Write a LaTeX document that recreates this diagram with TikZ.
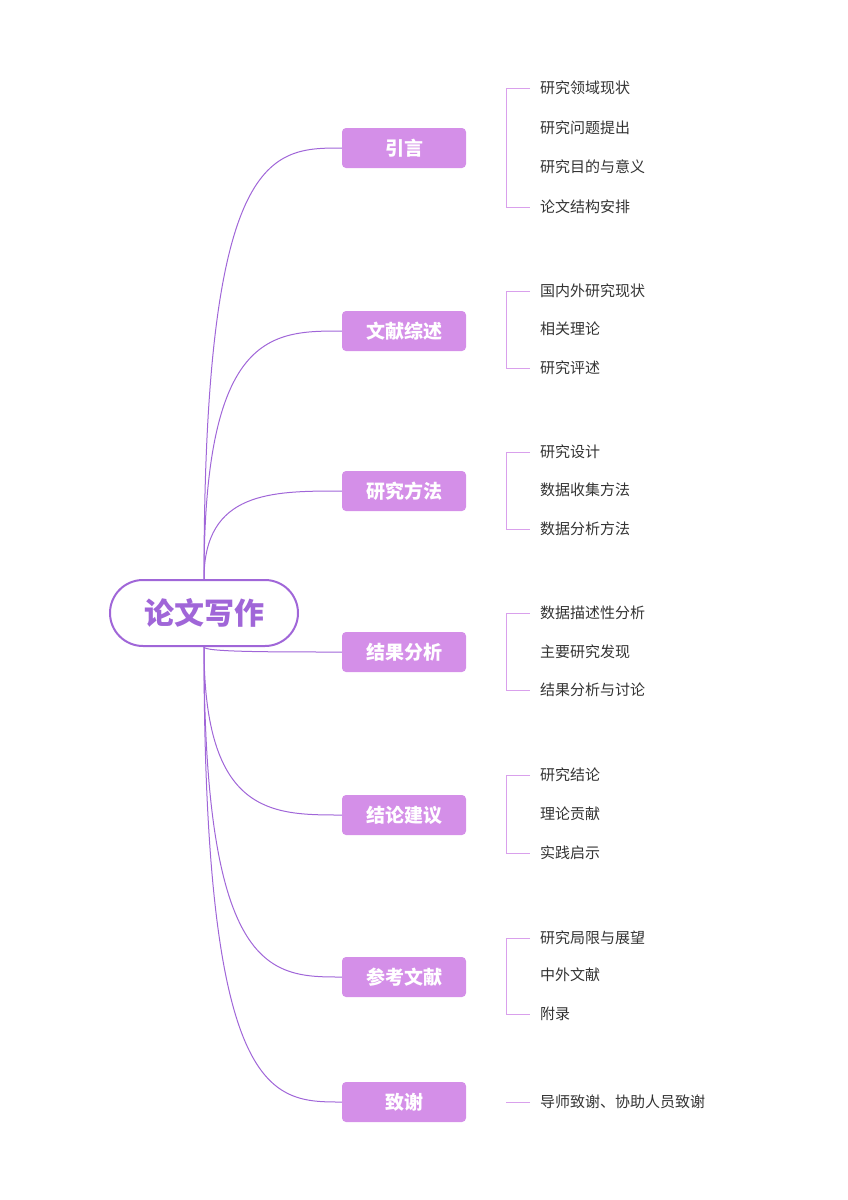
\documentclass[tikz,border=0pt]{standalone}
\usepackage{fontspec}
\setmainfont{Noto Sans CJK SC}
\usetikzlibrary{calc}
\definecolor{mainpurple}{HTML}{A066D8}
\definecolor{branchfill}{HTML}{D48FE8}
\definecolor{bracketcol}{HTML}{D9A0EC}
\definecolor{leaftext}{HTML}{333333}
\begin{document}
\begin{tikzpicture}[x=1pt,y=-1pt,
	rootnode/.style={draw=mainpurple, line width=2pt, rounded corners=33pt, minimum width=188pt, minimum height=66pt, text=mainpurple, font=\fontsize{30}{30}\selectfont\bfseries},
	branchnode/.style={fill=branchfill, rounded corners=4pt, minimum width=124pt, minimum height=40pt, text=white, font=\fontsize{19}{19}\selectfont\bfseries},
	leafnode/.style={anchor=west, inner xsep=2pt, text=leaftext, font=\fontsize{15}{15}\selectfont},
	link/.style={draw=mainpurple, line width=1pt},
	bracket/.style={draw=bracketcol, line width=0.8pt}]

	% page
	\useasboundingbox (0,0) rectangle (848,1200);

	% root
	\node[rootnode] (root) at (204,613) {论文写作};

	% main branches
	\node[branchnode] (b1) at (404,148) {引言};
	\node[branchnode] (b2) at (404,331) {文献综述};
	\node[branchnode] (b3) at (404,491) {研究方法};
	\node[branchnode] (b4) at (404,652) {结果分析};
	\node[branchnode] (b5) at (404,815) {结论建议};
	\node[branchnode] (b6) at (404,977) {参考文献};
	\node[branchnode] (b7) at (404,1102) {致谢};

	% curves from root
	\foreach \b in {b1,b2,b3}
		\draw[link] (root.north) .. controls (root.north |- \b.west) and ([xshift=-70pt]\b.west) .. (\b.west);
	\foreach \b in {b4,b5,b6,b7}
		\draw[link] (root.south) .. controls (root.south |- \b.west) and ([xshift=-70pt]\b.west) .. (\b.west);

	% leaves
	\node[leafnode] (l11) at (538,88) {研究领域现状};
	\node[leafnode] (l12) at (538,128) {研究问题提出};
	\node[leafnode] (l13) at (538,167) {研究目的与意义};
	\node[leafnode] (l14) at (538,207) {论文结构安排};

	\node[leafnode] (l21) at (538,291) {国内外研究现状};
	\node[leafnode] (l22) at (538,329) {相关理论};
	\node[leafnode] (l23) at (538,368) {研究评述};

	\node[leafnode] (l31) at (538,452) {研究设计};
	\node[leafnode] (l32) at (538,490) {数据收集方法};
	\node[leafnode] (l33) at (538,529) {数据分析方法};

	\node[leafnode] (l41) at (538,613) {数据描述性分析};
	\node[leafnode] (l42) at (538,652) {主要研究发现};
	\node[leafnode] (l43) at (538,690) {结果分析与讨论};

	\node[leafnode] (l51) at (538,775) {研究结论};
	\node[leafnode] (l52) at (538,814) {理论贡献};
	\node[leafnode] (l53) at (538,853) {实践启示};

	\node[leafnode] (l61) at (538,938) {研究局限与展望};
	\node[leafnode] (l62) at (538,975) {中外文献};
	\node[leafnode] (l63) at (538,1014) {附录};

	\node[leafnode] (l71) at (538,1102) {导师致谢、协助人员致谢};

	% brackets
	\foreach \first/\last in {l11/l14,l21/l23,l31/l33,l41/l43,l51/l53,l61/l63}
		\draw[bracket] ([xshift=-8pt]\first.west) -- ++(-24,0) |- ([xshift=-8pt]\last.west);
	\draw[bracket] ([xshift=-8pt]l71.west) -- ++(-24,0);

\end{tikzpicture}
\end{document}
